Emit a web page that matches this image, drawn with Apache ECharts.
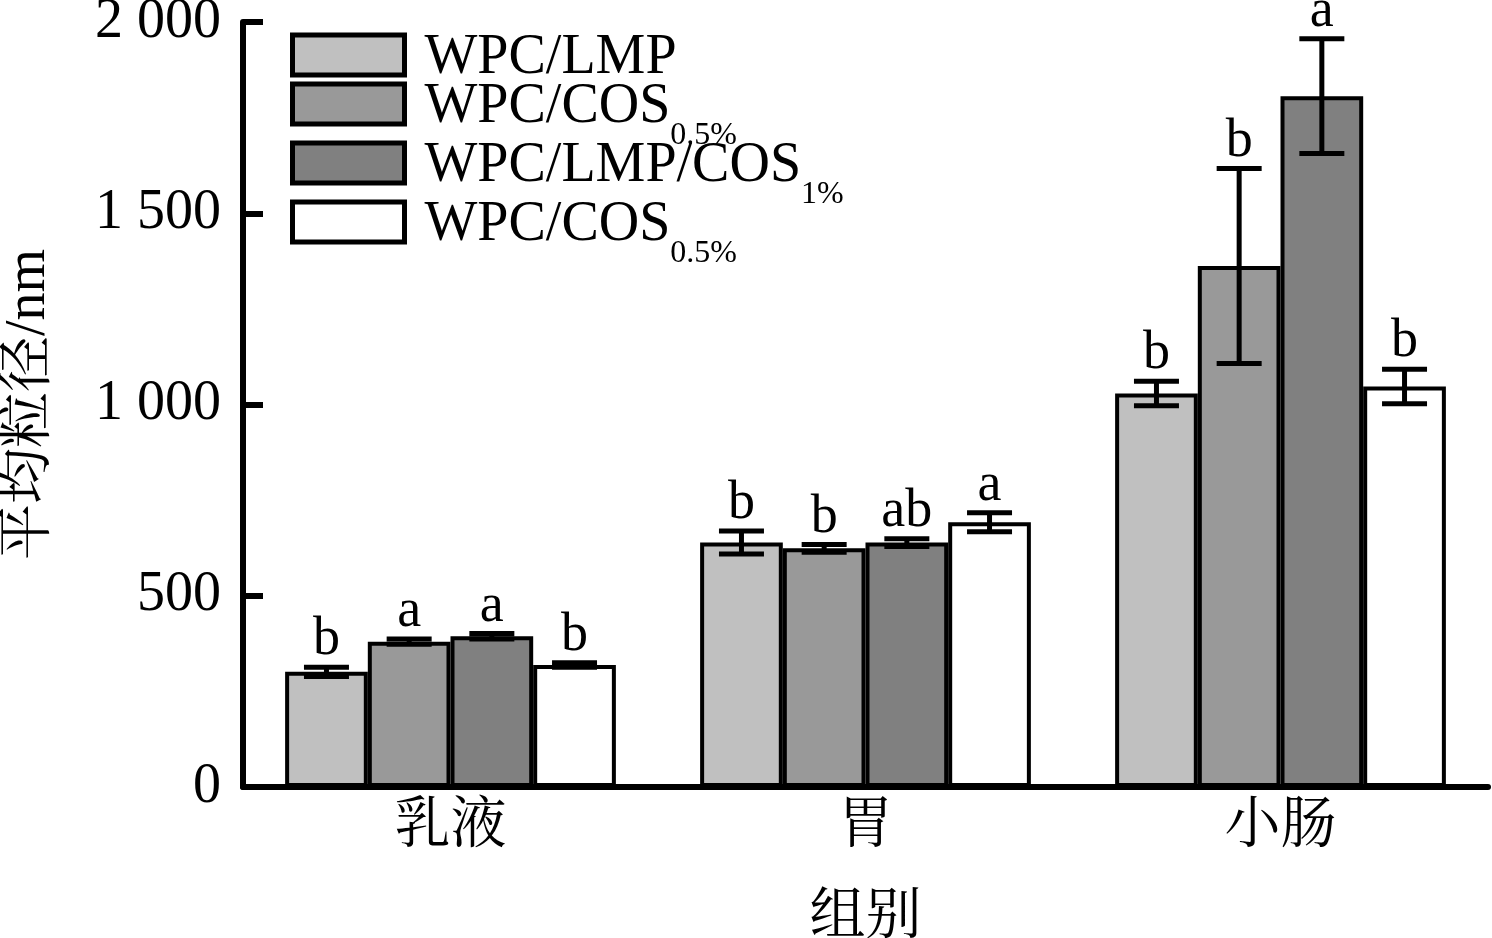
<!DOCTYPE html>
<html>
<head>
<meta charset="utf-8">
<script src="https://cdn.jsdelivr.net/npm/echarts@6/dist/echarts.min.js"></script>
<style>html,body{margin:0;padding:0;background:#fff}#c{width:1492px;height:938px}</style>
</head>
<body>
<div id="c"></div>
<script>
// ---- data ----
const categories = ['乳液', '胃', '小肠'];
const seriesKeys = ['WPC/LMP', 'WPC/COS 0.5%', 'WPC/LMP/COS 1%', 'WPC/COS 0.5% (2)'];
const legendMain = ['WPC/LMP', 'WPC/COS', 'WPC/LMP/COS', 'WPC/COS'];
const legendSub = ['', '0.5%', '1%', '0.5%'];

const valsLMP      = [301, 639, 1029];
const valsCOS05    = [380, 624, 1362];
const valsLMPCOS1  = [394, 639, 1806];
const valsCOS05b   = [319, 692, 1047];

const errLMP       = [12, 30, 32];
const errCOS05     = [7, 10, 255];
const errLMPCOS1   = [7, 10, 150];
const errCOS05b    = [6, 25, 45];

const sigLMP       = ['b', 'b', 'b'];
const sigCOS05     = ['a', 'b', 'b'];
const sigLMPCOS1   = ['a', 'ab', 'a'];
const sigCOS05b    = ['b', 'a', 'b'];

const yTicks      = [0, 500, 1000, 1500, 2000];
const yTickLabels = ['0', '500', '1 000', '1 500', '2 000'];

// ---- styling ----
const colors = ['#c0c0c0', '#999999', '#808080', '#ffffff'];
const values = [valsLMP, valsCOS05, valsLMPCOS1, valsCOS05b];
const errs = [errLMP, errCOS05, errLMPCOS1, errCOS05b];
const sigs = [sigLMP, sigCOS05, sigLMPCOS1, sigCOS05b];
const SERIF = '"Liberation Serif", "Times New Roman", serif';
const CJK = '"Liberation Serif", "Noto Serif CJK SC", "Noto Sans CJK SC", serif';
const GAP = 0.203;

const barSeries = values.map((vals, k) => ({
  type: 'bar',
  name: seriesKeys[k],
  data: vals,
  barGap: '0%',
  barCategoryGap: (GAP * 100) + '%',
  itemStyle: { color: colors[k], borderColor: '#000', borderWidth: 4 },
  emphasis: { disabled: true },
  z: 2
}));

const errSeries = values.map((vals, k) => ({
  type: 'custom',
  name: seriesKeys[k],
  data: vals.map((v, i) => [i, v, errs[k][i]]),
  encode: { x: 0, y: 1 },
  z: 5,
  silent: true,
  renderItem: (params, api) => {
    const i = params.dataIndex;
    const v = values[k][i], e = errs[k][i];
    const c = api.coord([i, v]);
    const band = api.size([1, 0])[0];
    const bw = band * (1 - GAP) / 4;
    const x = c[0] + (k - 1.5) * bw;
    const top = api.coord([i, v + e])[1];
    const bot = api.coord([i, v - e])[1];
    const ls = { stroke: '#000', lineWidth: 5 };
    return {
      type: 'group',
      children: [
        { type: 'line', shape: { x1: x, y1: top, x2: x, y2: bot }, style: ls },
        { type: 'line', shape: { x1: x - 22.5, y1: top, x2: x + 22.5, y2: top }, style: ls },
        { type: 'line', shape: { x1: x - 22.5, y1: bot, x2: x + 22.5, y2: bot }, style: ls },
        { type: 'text', x: x, y: top,
          style: { text: sigs[k][i], textAlign: 'center', textVerticalAlign: 'bottom', verticalAlign: 'bottom',
                   fontSize: 54, fontFamily: SERIF, fill: '#000' } }
      ]
    };
  }
}));

function legendBase(names, top) {
  return {
    data: names,
    orient: 'vertical',
    left: 290,
    top: top,
    padding: 0,
    itemGap: -14,
    itemWidth: 112,
    itemHeight: 40,
    icon: 'rect',
    itemStyle: { borderColor: '#000', borderWidth: 5 },
    formatter: name => {
      const i = seriesKeys.indexOf(name);
      return '{m|' + legendMain[i] + '}' + (legendSub[i] ? '{s|' + legendSub[i] + '}' : '');
    },
    textStyle: {
      color: '#000', fontFamily: SERIF, fontSize: 56,
      rich: {
        m: { fontSize: 56, fontFamily: SERIF, color: '#000', padding: [24, 0, 18, 15] },
        s: { fontSize: 32, fontFamily: SERIF, color: '#000', verticalAlign: 'top', padding: [65, 0, 0, 0] }
      }
    }
  };
}

const chart = echarts.init(document.getElementById('c'), null, { renderer: 'canvas' });
chart.setOption({
  animation: false,
  backgroundColor: '#fff',
  grid: { left: 243, right: 4, top: 22, bottom: 151, containLabel: false, outerBoundsMode: 'none' },
  legend: [
    legendBase(seriesKeys.slice(0, 1), 30),
    legendBase(seriesKeys.slice(1), 79)
  ],
  xAxis: {
    type: 'category',
    data: categories,
    name: '组别',
    nameLocation: 'middle',
    nameGap: 103,
    nameTextStyle: { fontSize: 56, fontFamily: CJK, color: '#000' },
    axisLine: { show: true, lineStyle: { color: '#000', width: 6 } },
    axisTick: { show: false },
    axisLabel: { margin: 12, fontSize: 56, fontFamily: CJK, color: '#000' },
    splitLine: { show: false }
  },
  yAxis: {
    type: 'value',
    min: 0, max: 2000, interval: 500,
    name: '平均粒径/nm',
    nameLocation: 'middle',
    nameGap: 186,
    nameTextStyle: { fontSize: 56, fontFamily: CJK, color: '#000' },
    axisLine: { show: true, lineStyle: { color: '#000', width: 6 } },
    axisTick: { show: true, inside: true, length: 20, lineStyle: { color: '#000', width: 6 } },
    axisLabel: { margin: 22, fontSize: 56, fontFamily: SERIF, color: '#000',
                 formatter: v => yTickLabels[yTicks.indexOf(v)] },
    splitLine: { show: false }
  },
  series: barSeries.concat(errSeries)
});
</script>
</body>
</html>
